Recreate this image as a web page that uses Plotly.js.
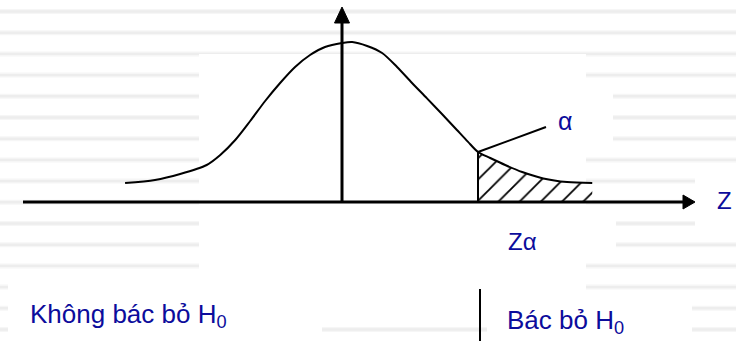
<!DOCTYPE html>
<html><head><meta charset="utf-8">
<script src="https://cdn.plot.ly/plotly-3.0.1.min.js"></script>
<style>html,body{margin:0;padding:0;background:#fff;overflow:hidden}#chart{width:736px;height:341px}</style>
</head><body><div id="chart"></div>
<script>
// ---- data ----
const zValues = [-3.19, -2.75, -2.38, -1.99, -1.79, -1.57, -1.35, -1.13, -0.91, -0.69, -0.47, -0.25, 0.00, 0.15, 0.37, 0.59, 0.81, 1.03, 1.25, 1.47, 1.69, 1.85, 2.00, 2.18, 2.40, 2.65, 2.96, 3.31, 3.68];
const density = [0.0475, 0.055, 0.070, 0.0925, 0.1175, 0.155, 0.2025, 0.2525, 0.2975, 0.3375, 0.3675, 0.3875, 0.3975, 0.400, 0.390, 0.3725, 0.3375, 0.2975, 0.259, 0.220, 0.180, 0.151, 0.125, 0.110, 0.0925, 0.075, 0.059, 0.050, 0.0475];
const zAlpha = 2.00;
const axisLabel = 'Z';
const alphaLabel = 'α';
const criticalLabel = 'Zα';
const acceptLabel = 'Không bác bỏ H<sub>0</sub>';
const rejectLabel = 'Bác bỏ H<sub>0</sub>';

// ---- geometry helpers (pixel -> axis / paper) ----
const W = 736, H = 341;
const PX0 = 342, PXU = 68, PY0 = 202, PYU = 400;
const X = px => (px - PX0) / PXU;
const Y = py => (PY0 - py) / PYU;
const PXp = px => px / W;
const PYp = py => 1 - py / H;

const tailZ = zValues.filter(z => z >= zAlpha);
const tailD = density.filter((d, i) => zValues[i] >= zAlpha);
const dAlpha = density[zValues.indexOf(zAlpha)];

const TXT = '#0c0c9c';
const FONT = 'Liberation Sans, Arial, sans-serif';

// background stripes + white boxes
const shapes = [];
for (let k = 0; k < 16; k++) {
  const c = 11.5 + 21.2 * k;
  shapes.push({type:'rect', xref:'paper', yref:'paper', layer:'below', x0:0, x1:1, y0:PYp(c+2.5), y1:PYp(c-2.5), fillcolor:'#f6f6f6', line:{width:0}});
  shapes.push({type:'rect', xref:'paper', yref:'paper', layer:'below', x0:0, x1:1, y0:PYp(c+1.2), y1:PYp(c-1.2), fillcolor:'#ededed', line:{width:0}});
}
function box(x0, x1, y0, y1) {
  shapes.push({type:'rect', xref:'paper', yref:'paper', layer:'below', x0:PXp(x0), x1:PXp(x1), y0:PYp(y1), y1:PYp(y0), fillcolor:'#ffffff', line:{width:0}});
}
box(199, 586, 54, 322);
box(540, 613, 88, 152);
box(695, 736, 170, 236);
box(480, 616, 215, 258);
box(8, 322, 283, 341);
box(487, 692, 292, 341);

// axes drawn as lines with triangular heads
shapes.push({type:'line', xref:'paper', yref:'paper', x0:PXp(23), x1:PXp(684), y0:PYp(202), y1:PYp(202), line:{color:'#000', width:3}});
shapes.push({type:'path', xref:'paper', yref:'paper',
  path:`M ${PXp(683)} ${PYp(195)} L ${PXp(695)} ${PYp(202)} L ${PXp(683)} ${PYp(209)} Z`, fillcolor:'#000', line:{color:'#000', width:1}});
shapes.push({type:'line', xref:'paper', yref:'paper', x0:PXp(342), x1:PXp(342), y0:PYp(202), y1:PYp(22), line:{color:'#000', width:3}});
shapes.push({type:'path', xref:'paper', yref:'paper',
  path:`M ${PXp(334.5)} ${PYp(23)} L ${PXp(342)} ${PYp(7)} L ${PXp(349.5)} ${PYp(23)} Z`, fillcolor:'#000', line:{color:'#000', width:1}});

// leader line to alpha and divider line
shapes.push({type:'line', xref:'x', yref:'y', x0:zAlpha, y0:dAlpha, x1:X(546), y1:Y(127), line:{color:'#000', width:2}});
shapes.push({type:'line', xref:'x', yref:'paper', x0:X(480), x1:X(480), y0:PYp(289), y1:0, line:{color:'#000', width:2}});

const traces = [
  {x: tailZ, y: tailD, type:'scatter', mode:'lines', fill:'tozeroy', line:{width:0, shape:'spline', smoothing:0.8}, fillcolor:'#ffffff',
   fillpattern:{shape:'/', size:15, solidity:0.12, fgcolor:'#000', bgcolor:'#ffffff'}, hoverinfo:'skip'},
  {x: zValues, y: density, type:'scatter', mode:'lines', line:{color:'#000', width:2, shape:'spline', smoothing:0.8}, hoverinfo:'skip'},
  {x: [zAlpha, zAlpha], y: [0, dAlpha], type:'scatter', mode:'lines', line:{color:'#000', width:2}, hoverinfo:'skip'}
];

const annotations = [
  {xref:'paper', yref:'paper', x:PXp(565), y:PYp(121), text:alphaLabel, showarrow:false, xanchor:'center', yanchor:'middle', font:{family:FONT, size:25, color:TXT}},
  {xref:'paper', yref:'paper', x:PXp(724), y:PYp(200), text:axisLabel, showarrow:false, xanchor:'center', yanchor:'middle', font:{family:FONT, size:24, color:TXT}},
  {xref:'paper', yref:'paper', x:PXp(522), y:PYp(241), text:criticalLabel, showarrow:false, xanchor:'center', yanchor:'middle', font:{family:FONT, size:24, color:TXT}},
  {xref:'paper', yref:'paper', x:PXp(28), y:PYp(315), text:acceptLabel, showarrow:false, xanchor:'left', yanchor:'middle', font:{family:FONT, size:26, color:TXT}},
  {xref:'paper', yref:'paper', x:PXp(505), y:PYp(321), text:rejectLabel, showarrow:false, xanchor:'left', yanchor:'middle', font:{family:FONT, size:26, color:TXT}}
];

const layout = {
  width: W, height: H, autosize:false,
  margin:{l:0, r:0, t:0, b:0, pad:0},
  paper_bgcolor:'#ffffff', plot_bgcolor:'rgba(0,0,0,0)',
  showlegend:false, hovermode:false,
  xaxis:{range:[X(0), X(W)], visible:false, fixedrange:true},
  yaxis:{range:[Y(H), Y(0)], visible:false, fixedrange:true},
  shapes: shapes,
  annotations: annotations
};

Plotly.newPlot('chart', traces, layout, {staticPlot:true, displayModeBar:false});
</script>
</body></html>
